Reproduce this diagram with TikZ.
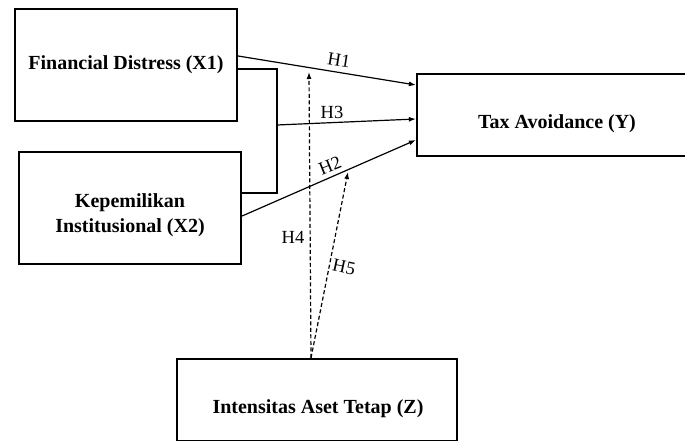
\documentclass[tikz,border=0pt]{standalone}
\usepackage{fontspec}
\setmainfont{Liberation Serif}
\usetikzlibrary{arrows.meta}
\begin{document}
\begin{tikzpicture}[x=1pt,y=-1pt,
  frame/.style={draw,line width=2.2pt,inner sep=0pt},
  txt/.style={font=\fontsize{20}{25}\selectfont\bfseries,align=center,inner sep=0pt},
  conn/.style={line width=1.2pt,-{Latex[length=7pt,width=5pt]}},
  dconn/.style={conn,dash pattern=on 4pt off 2.5pt},
  plain/.style={line width=1.2pt},
  hlab/.style={font=\fontsize{18.5}{20}\selectfont,inner sep=0pt}]
\path[use as bounding box] (0,0) rectangle (685,441);
\begin{scope}
\clip (0,0) rectangle (685,441);
% boxes
\node[frame,minimum width=222pt,minimum height=112pt] (x1) at (126,65) {};
\node[txt] (x1t) at (126,65) {Financial Distress (X1)};
\node[frame,minimum width=222pt,minimum height=112pt] (x2) at (130,208) {};
\node[txt] (x2t) at (130,215) {Kepemilikan\\Institusional (X2)};
\node[frame,minimum width=283pt,minimum height=82pt] (y) at (558.5,115) {};
\node[txt] (yt) at (557,124) {Tax Avoidance (Y)};
\node[frame,minimum width=280pt,minimum height=82pt] (z) at (317,400) {};
\node[txt] (zt) at (318,409) {Intensitas Aset Tetap (Z)};
% bracket
\coordinate (br) at (277,125);
\draw[plain] ([yshift=-4pt]x1.east) -| (br) |- ([yshift=15pt]x2.east);
% solid arrows
\draw[conn] ([yshift=9pt]x1.east) -- ([yshift=30pt]y.west);
\draw[conn] (br) -- ([yshift=-4pt]y.west);
\draw[conn] ([yshift=-8pt]x2.east) -- ([yshift=-25pt]y.west);
% dashed arrows
\coordinate (h4end) at (309,72);
\coordinate (h5end) at (348,172);
\draw[dconn] ([xshift=-6pt]z.north) -- (h4end);
\draw[dconn] ([xshift=-6pt]z.north) -- (h5end);
% labels
\node[hlab,rotate=-9] (l1) at (339,60) {H1};
\node[hlab] (l3) at (332,112) {H3};
\node[hlab,rotate=22] (l2) at (330,166) {H2};
\node[hlab] (l4) at (293,237) {H4};
\node[hlab,rotate=-12] (l5) at (344,267) {H5};
\end{scope}
\end{tikzpicture}
\end{document}
